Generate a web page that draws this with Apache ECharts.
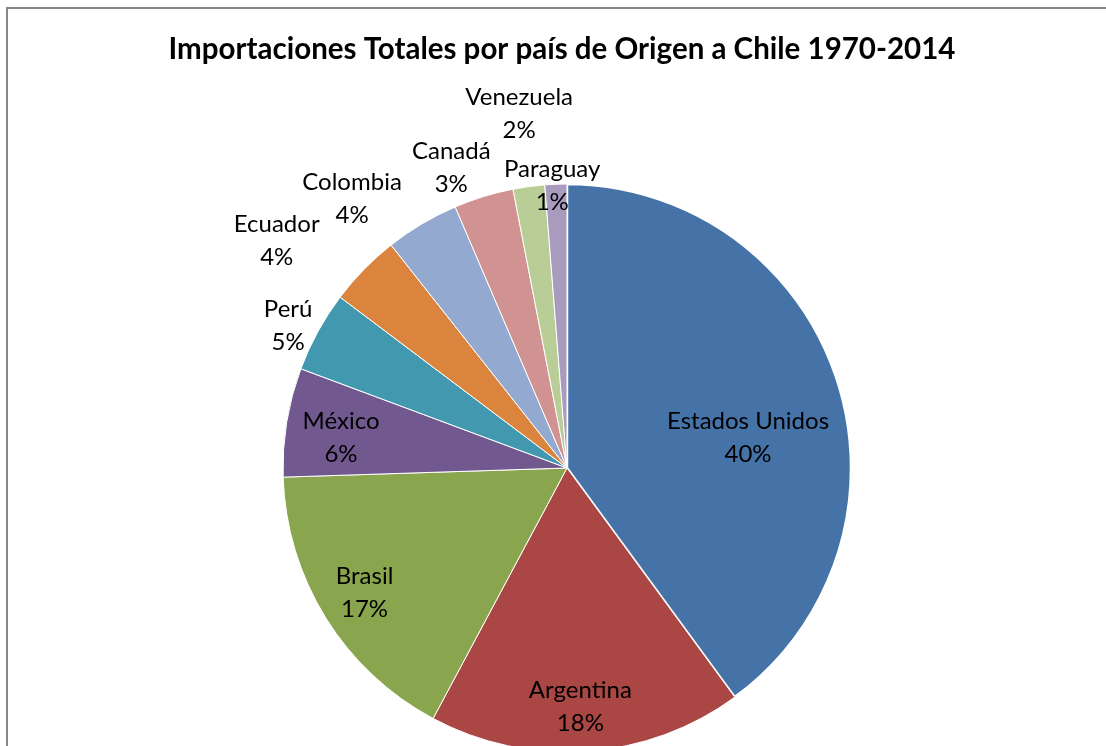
<!DOCTYPE html>
<html>
<head>
<meta charset="utf-8">
<script src="https://cdn.jsdelivr.net/npm/echarts@6/dist/echarts.min.js"></script>
<style>
  html, body { margin: 0; padding: 0; background: #fff; }
  #chart { width: 1106px; height: 746px; }
</style>
</head>
<body>
<div id="chart"></div>
<script>
// share of total imports by origin country
let countries = ['Estados Unidos', 'Argentina', 'Brasil', 'México', 'Perú',
  'Ecuador', 'Colombia', 'Canadá', 'Venezuela', 'Paraguay'];
let shares = [40.0, 17.9, 16.7, 6.2, 4.6, 4.1, 4.2, 3.4, 1.8, 1.25];

// Excel 2007 palette
let colors = ['#4572A7', '#AA4643', '#89A54E', '#71588F', '#4198AF',
  '#DB843D', '#93A9CF', '#D19392', '#B9CD96', '#A99BBD'];

// where each label sits: distance (as fraction of radius) and angle clockwise from top
let labelDist = [0.646, 0.841, 0.837, 0.803, 1.103, 1.297, 1.213, 1.132, 1.258, 0.994];
let labelAngle = [80.6, 176.8, 238.4, 277.7, 297.1, 308.0, 321.4, 338.9, 352.3, 357.0];

let pieCenter = [567, 468];
let pieRadius = 284;

let chart = echarts.init(document.getElementById('chart'));
chart.setOption({
  animation: false,
  graphic: [{
    type: 'rect',
    shape: { x: 7, y: 8, width: 1300, height: 900 },
    style: { fill: 'none', stroke: '#878787', lineWidth: 2 },
    silent: true
  }, {
    type: 'text',
    x: 562,
    y: 49,
    silent: true,
    style: {
      text: 'Importaciones Totales por país de Origen a Chile 1970-2014',
      font: 'bold 29.5px Lato',
      fill: '#000',
      align: 'center',
      verticalAlign: 'middle',
      textAlign: 'center',
      textVerticalAlign: 'middle'
    }
  }],
  series: [{
    type: 'pie',
    center: pieCenter,
    radius: pieRadius,
    startAngle: 90,
    clockwise: true,
    avoidLabelOverlap: false,
    data: countries.map(function (c, i) {
      // the big slice is pulled apart a little more by a thicker white edge
      let style = { color: colors[i] };
      if (i === 0) style.borderWidth = 2.5;
      return { name: c, value: shares[i], itemStyle: style };
    }),
    itemStyle: { borderColor: '#fff', borderWidth: 1 },
    label: {
      show: true,
      position: 'inside',
      fontFamily: 'Lato',
      fontSize: 24,
      lineHeight: 33,
      color: '#000',
      formatter: function (p) {
        return p.name + '\n' + Math.round(p.percent) + '%';
      }
    },
    labelLine: { show: false },
    emphasis: { disabled: true },
    labelLayout: function (params) {
      let i = params.dataIndex;
      let a = labelAngle[i] * Math.PI / 180;
      let r = labelDist[i] * pieRadius;
      return {
        x: pieCenter[0] + r * Math.sin(a),
        y: pieCenter[1] - r * Math.cos(a),
        align: 'center',
        verticalAlign: 'middle',
        hideOverlap: false
      };
    }
  }]
});
</script>
</body>
</html>
